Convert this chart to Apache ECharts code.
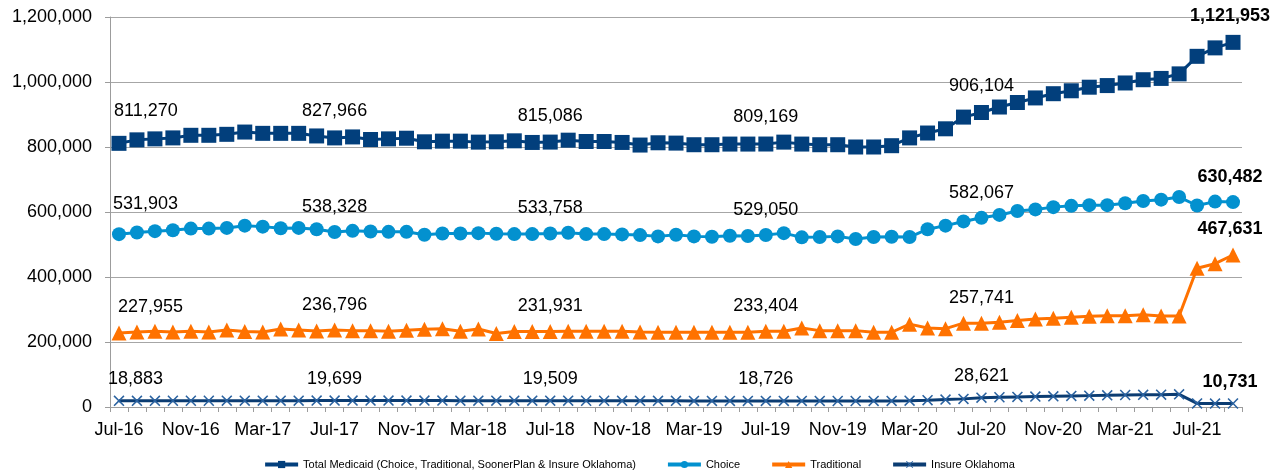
<!DOCTYPE html>
<html>
<head>
<meta charset="utf-8">
<script src="https://cdn.jsdelivr.net/npm/echarts@6/dist/echarts.min.js"></script>
<style>
html,body{margin:0;padding:0;background:#fff;}
#chart{width:1278px;height:471px;}
</style>
</head>
<body>
<div id="chart"></div>
<script>
const categories = [
  'Jul-16','Aug-16','Sep-16','Oct-16','Nov-16','Dec-16',
  'Jan-17','Feb-17','Mar-17','Apr-17','May-17','Jun-17','Jul-17','Aug-17','Sep-17','Oct-17','Nov-17','Dec-17',
  'Jan-18','Feb-18','Mar-18','Apr-18','May-18','Jun-18','Jul-18','Aug-18','Sep-18','Oct-18','Nov-18','Dec-18',
  'Jan-19','Feb-19','Mar-19','Apr-19','May-19','Jun-19','Jul-19','Aug-19','Sep-19','Oct-19','Nov-19','Dec-19',
  'Jan-20','Feb-20','Mar-20','Apr-20','May-20','Jun-20','Jul-20','Aug-20','Sep-20','Oct-20','Nov-20','Dec-20',
  'Jan-21','Feb-21','Mar-21','Apr-21','May-21','Jun-21','Jul-21','Aug-21','Sep-21'
];

const totalMedicaid = [
  811270, 822000, 825000, 828000, 836000, 836000, 839000, 846000, 842000, 842000,
  842000, 834000, 827966, 831000, 823000, 825000, 827000, 816000, 818000, 818000,
  815000, 816000, 819000, 814000, 815086, 821000, 817000, 817000, 814000, 806000,
  813000, 812000, 807000, 807000, 809000, 809000, 809169, 815000, 809000, 807000,
  807000, 800000, 800000, 804000, 828000, 843000, 856000, 892000, 906104, 923000,
  937000, 951000, 964000, 973000, 984000, 989000, 997000, 1007000, 1011000, 1025000,
  1079000, 1105000, 1121953
];

const choice = [
  531903, 537000, 541000, 544000, 549000, 549000, 551000, 558000, 555000, 550000,
  551000, 547000, 538328, 542000, 540000, 539000, 539000, 530000, 534000, 534000,
  535000, 533000, 532000, 532000, 533758, 536000, 532000, 532000, 531000, 529000,
  525000, 530000, 525000, 524000, 527000, 526000, 529050, 535000, 522000, 523000,
  525000, 517000, 523000, 524000, 523000, 547000, 558000, 571000, 582067, 591000,
  603000, 608000, 615000, 619000, 621000, 621000, 627000, 634000, 638000, 646000,
  620000, 632000, 630482
];

const traditional = [
  227955, 231000, 233000, 231000, 233000, 231000, 237000, 232000, 231000, 240000,
  237000, 234000, 236796, 235000, 235000, 233000, 236000, 239000, 241000, 233000,
  240000, 226000, 232000, 232000, 231931, 233000, 233000, 233000, 233000, 231000,
  230000, 230000, 230000, 230000, 230000, 230000, 233404, 233000, 243000, 235000,
  235000, 235000, 230000, 230000, 255000, 243000, 241000, 258000, 257741, 261000,
  266000, 271000, 273000, 276000, 279000, 281000, 281000, 284000, 280000, 280000,
  427000, 441000, 467631
];

const insureOklahoma = [
  18883, 19000, 19100, 19200, 19300, 19300, 19400, 19500, 19500, 19600,
  19600, 19700, 19699, 19700, 19800, 19800, 19800, 19700, 19700, 19600,
  19600, 19600, 19500, 19500, 19509, 19400, 19300, 19200, 19100, 19000,
  18900, 18900, 18800, 18800, 18700, 18700, 18726, 18700, 18600, 18600,
  18500, 18500, 18600, 18800, 19500, 21000, 23000, 25000, 28621, 30000,
  31000, 32000, 33000, 34000, 35000, 36000, 37000, 37500, 38000, 39000,
  11000, 10500, 10731
];

const seriesNames = [
  'Total Medicaid (Choice, Traditional, SoonerPlan & Insure Oklahoma)',
  'Choice',
  'Traditional',
  'Insure Oklahoma'
];

const labelIdx = [0, 12, 24, 36, 48, 62];

const FONT = '"Liberation Sans", Arial, Helvetica, sans-serif';
function fmt(v) { return String(v).replace(/\B(?=(\d{3})+(?!\d))/g, ','); }

function buildData(values, cfg) {
  return values.map(function (v, i) {
    if (labelIdx.indexOf(i) < 0) return v;
    const last = i === values.length - 1;
    const lab = { show: true, position: 'top', distance: cfg.dist, fontWeight: last ? 'bold' : 'normal' };
    if (i === 0) { lab.align = 'left'; lab.offset = [cfg.firstDx, cfg.firstDy]; }
    if (last) { lab.offset = [-3, 0]; }
    return { value: v, label: lab };
  });
}

function baseLabel() {
  return { show: false, color: '#000', fontSize: 18, fontFamily: FONT, formatter: function (p) { return fmt(p.value); } };
}

const chart = echarts.init(document.getElementById('chart'), null, { renderer: 'canvas' });

const option = {
  animation: false,
  backgroundColor: '#fff',
  textStyle: { fontFamily: FONT },
  grid: { left: 110, right: 36, top: 17, bottom: 64, containLabel: false },
  legend: {
    left: 'center',
    top: 454,
    itemWidth: 33,
    itemHeight: 9,
    itemGap: 30,
    lineStyle: { width: 4 },
    textStyle: { fontSize: 11, color: '#000', fontFamily: FONT },
    data: seriesNames
  },
  xAxis: {
    type: 'category',
    data: categories,
    boundaryGap: true,
    axisLine: { show: true, lineStyle: { color: '#9c9c9c', width: 1 } },
    axisTick: { show: true, interval: 0, length: 5, lineStyle: { color: '#9c9c9c' } },
    axisLabel: { interval: 3, fontSize: 18, color: '#000', fontFamily: FONT, margin: 14 },
    splitLine: { show: false }
  },
  yAxis: {
    type: 'value',
    min: 0,
    max: 1200000,
    interval: 200000,
    axisLine: { show: true, lineStyle: { color: '#9c9c9c', width: 1 } },
    axisTick: { show: true, length: 5, lineStyle: { color: '#9c9c9c' } },
    axisLabel: { fontSize: 18, color: '#000', fontFamily: FONT, margin: 18, formatter: function (v) { return fmt(v); } },
    splitLine: { show: true, lineStyle: { color: '#a6a6a6', width: 1 } }
  },
  series: [
    {
      name: seriesNames[0],
      type: 'line',
      data: buildData(totalMedicaid, { dist: 10, firstDx: -5, firstDy: -6 }),
      symbol: 'rect',
      symbolSize: 15,
      showAllSymbol: true,
      itemStyle: { color: '#023F7C' },
      lineStyle: { color: '#023F7C', width: 3 },
      label: baseLabel(),
      z: 4
    },
    {
      name: seriesNames[1],
      type: 'line',
      data: buildData(choice, { dist: 9, firstDx: -6, firstDy: -5 }),
      symbol: 'circle',
      symbolSize: 14,
      showAllSymbol: true,
      itemStyle: { color: '#0391CF' },
      lineStyle: { color: '#0391CF', width: 3 },
      label: baseLabel(),
      z: 3
    },
    {
      name: seriesNames[2],
      type: 'line',
      data: buildData(traditional, { dist: 9, firstDx: -1, firstDy: 0 }),
      symbol: 'triangle',
      symbolSize: 15,
      showAllSymbol: true,
      itemStyle: { color: '#FF7200' },
      lineStyle: { color: '#FF7200', width: 3 },
      label: baseLabel(),
      z: 2
    },
    {
      name: seriesNames[3],
      type: 'line',
      data: buildData(insureOklahoma, { dist: 7, firstDx: -11, firstDy: 0 }),
      symbol: 'path://M1,0 L5,4 L9,0 L10,1 L6,5 L10,9 L9,10 L5,6 L1,10 L0,9 L4,5 L0,1 Z',
      symbolSize: 11,
      showAllSymbol: true,
      itemStyle: { color: '#2A62A0' },
      lineStyle: { color: '#0B3C72', width: 3 },
      label: baseLabel(),
      z: 1
    }
  ]
};

chart.setOption(option);
</script>
</body>
</html>
